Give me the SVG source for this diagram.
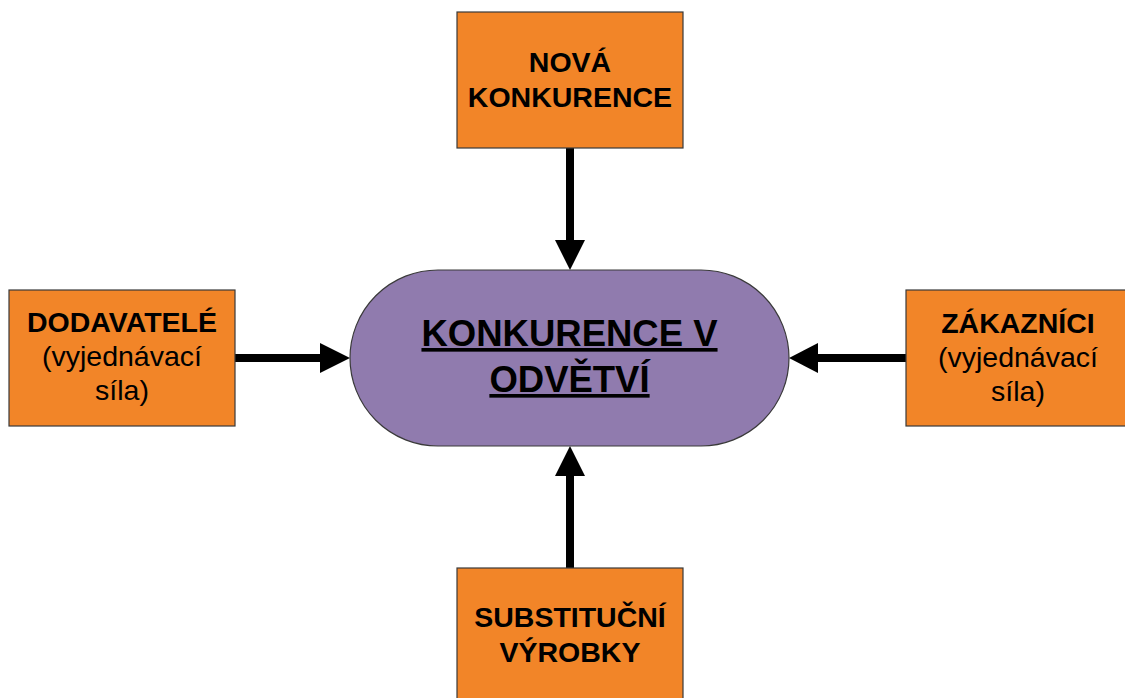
<svg xmlns="http://www.w3.org/2000/svg" width="1125" height="698" viewBox="0 0 1125 698">
<style>
.box{fill:#F28528;stroke:#3a3a3a;stroke-width:1.2}
.hub{fill:#907BAE;stroke:#3a3a3a;stroke-width:1.2}
.t{font-family:"Liberation Sans",Arial,sans-serif;font-size:28.5px;fill:#000;text-anchor:middle}
.b{font-weight:bold}
.c{font-family:"Liberation Sans",Arial,sans-serif;font-size:36.5px;font-weight:bold;fill:#000;text-anchor:middle;text-decoration:underline}
.conn{stroke:#000;stroke-width:8;stroke-linecap:round;fill:none}
</style>
<defs>
<marker id="ah" markerUnits="userSpaceOnUse" viewBox="0 0 30 30" refX="30" refY="15" markerWidth="30" markerHeight="30" orient="auto">
<path d="M0,0 L30,15 L0,30 Z" fill="#000"/>
</marker>
</defs>
<rect width="1125" height="698" fill="#fff"/>
<g id="connectors">
<path class="conn" d="M570,148 L570,244" />
<path d="M555,240 L585,240 L570,270 Z" fill="#000"/>
<path class="conn" d="M235,358 L324,358" />
<path d="M320,343 L320,373 L350,358 Z" fill="#000"/>
<path class="conn" d="M906,358 L814,358" />
<path d="M818,343 L818,373 L789,358 Z" fill="#000"/>
<path class="conn" d="M570,568 L570,472" />
<path d="M555,476 L585,476 L570,446 Z" fill="#000"/>
</g>
<g id="hub">
<rect class="hub" x="350" y="270" width="439" height="176" rx="88" ry="88"/>
<text class="c" x="569.5" y="346">KONKURENCE V</text>
<text class="c" x="569.5" y="392">ODVĚTVÍ</text>
</g>
<g id="nova">
<rect class="box" x="457" y="12" width="226" height="136"/>
<text class="t b" x="570" y="72">NOVÁ</text>
<text class="t b" x="570" y="107">KONKURENCE</text>
</g>
<g id="dodavatele">
<rect class="box" x="9" y="290" width="226" height="136"/>
<text class="t b" x="122" y="332">DODAVATELÉ</text>
<text class="t" x="122" y="366">(vyjednávací</text>
<text class="t" x="122" y="400">síla)</text>
</g>
<g id="zakaznici">
<rect class="box" x="906" y="290" width="226" height="136"/>
<text class="t b" x="1018" y="333">ZÁKAZNÍCI</text>
<text class="t" x="1018" y="367">(vyjednávací</text>
<text class="t" x="1018" y="401">síla)</text>
</g>
<g id="substitucni">
<rect class="box" x="457" y="568" width="226" height="140"/>
<text class="t b" x="570" y="627">SUBSTITUČNÍ</text>
<text class="t b" x="570" y="662">VÝROBKY</text>
</g>
</svg>
